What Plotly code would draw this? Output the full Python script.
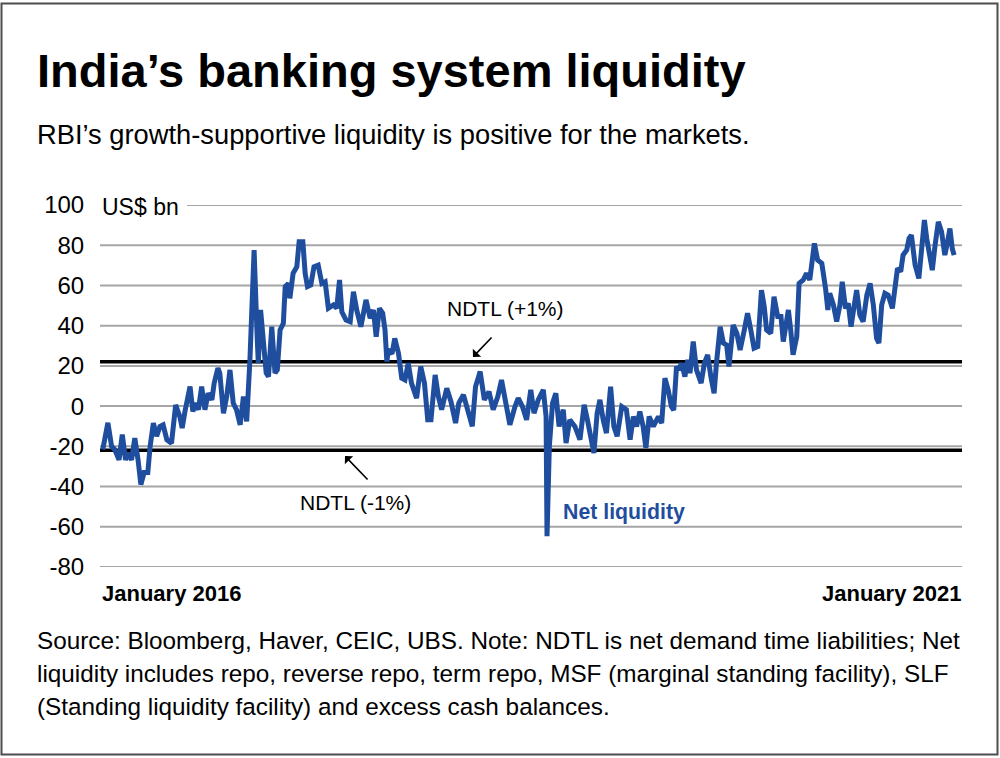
import pandas as pd
import plotly.graph_objects as go

# ---- data (days since 2016-01-01, net liquidity in US$ bn) ----
days = [6, 17, 25, 32, 41, 48, 55, 61, 68, 75, 82, 88, 95, 103, 108, 115, 122, 129, 136, 144,
        154, 163, 172, 177, 183, 194, 200, 205, 212, 219, 226, 233, 241, 246, 254, 258, 266, 273, 280, 287,
        294, 302, 309, 316, 323, 332, 338, 341, 346, 352, 358, 363, 370, 377, 382, 388, 395, 399, 406, 409,
        416, 424, 429, 437, 442, 447, 454, 461, 470, 478, 485, 492, 503, 510, 516, 521, 530, 539, 546, 553,
        562, 573, 582, 589, 595, 602, 609, 614, 618, 621, 629, 635, 643, 650, 657, 664, 671, 682, 691, 699,
        706, 713, 722, 729, 736, 747, 756, 766, 773, 783, 792, 802, 809, 819, 828, 838, 847, 857, 865, 872,
        883, 894, 901, 910, 919, 928, 935, 944, 955, 961, 963, 968, 975, 982, 989, 998, 1004, 1012, 1023, 1034,
        1043, 1050, 1055, 1064, 1071, 1077, 1084, 1091, 1100, 1107, 1114, 1124, 1134, 1142, 1149, 1156, 1163, 1170, 1176, 1183,
        1192, 1203, 1210, 1217, 1224, 1231, 1236, 1242, 1246, 1253, 1260, 1266, 1271, 1278, 1285, 1295, 1302, 1309, 1316, 1323,
        1328, 1336, 1343, 1350, 1355, 1364, 1372, 1379, 1388, 1395, 1402, 1409, 1417, 1425, 1431, 1436, 1445, 1452, 1460, 1467,
        1472, 1483, 1488, 1493, 1501, 1506, 1515, 1522, 1529, 1539, 1546, 1555, 1563, 1568, 1572, 1580, 1587, 1594, 1599, 1606,
        1612, 1618, 1625, 1630, 1637, 1644, 1652, 1659, 1666, 1673, 1678, 1684, 1691, 1698, 1707, 1712, 1718, 1725, 1730, 1738,
        1743, 1748, 1756, 1764, 1770, 1776, 1781, 1788, 1793, 1799, 1806, 1813, 1820, 1826, 1831, 1836, 1840]

net_liquidity = [-21.6, -8.3, -20, -21.7, -26.7, -14.2, -26.7, -23.3, -26.7, -15.9, -26.7, -39, -33, -33, -20, -8.4, -15, -10.1, -9.3, -16.7,
                 -18.4, 0.6, -5.2, -10.9, -2.7, 9.7, -2.7, 1.5, -1.8, 9.7, -1.8, 6.4, 3.1, 11.4, 18.9, 16.4, -3.5, 4.8, 18, 1.5,
                 -1.8, -9.3, 4.8, -7.6, 23, 77.6, 37.9, 21.3, 47.8, 29.6, 16.5, 14.7, 39.5, 16.4, 18, 37.9, 41.2, 59.4, 61, 53.6,
                 66, 69.3, 81.7, 81.7, 66, 59.4, 60.2, 69.3, 70.1, 61, 61.8, 48.7, 50.3, 48.7, 62.7, 46.9, 42.8, 42, 56.9, 47.8,
                 39.5, 52.8, 43.7, 47.8, 34.5, 48.6, 46.2, 37.9, 22.1, 28, 26, 33.7, 26.3, 13.9, 13, 21.3, 11.4, 4, 19.7, 11.4,
                 -6.8, -6.8, 15.5, 4.8, -1.8, 8.9, 2.3, -8.4, 1.5, 5.6, -1.8, -10.1, 9.7, 17.2, 3.1, 7.2, -1.8, 4.8, 13, 3.1,
                 -9.3, -0.2, 4, -0.2, -6.8, 8.1, -3.5, 3.1, 8.1, -5.2, -64.7, -20, 1.5, 6.4, -10.1, -1.8, -18.4, -6.8, -10.1, -16.7,
                 0.6, -6.8, -13.4, -23.3, -3.5, 3.1, -6.8, -13.4, 9.7, -10.1, -15, -0.2, -1.8, -16.7, -5.2, -10.1, -2.7, -10.1, -20.8, -5.2,
                 -10.1, -5.2, -8.4, 13.9, 8.1, -0.2, -2, 19.7, 18, 21.3, 14.7, 23, 16.4, 32.1, 18, 11.4, 21.3, 25.5, 14.7, 6.4,
                 21.3, 39.5, 31.3, 30.4, 19.7, 40.3, 36.2, 27.9, 37.9, 46.2, 37.9, 28.8, 29.6, 57.7, 49.4, 37.9, 36.2, 54.4, 44.5, 44.5,
                 32.1, 47.8, 37.9, 25.5, 34.5, 61, 62.7, 66, 62.7, 80.9, 72.6, 71, 58.6, 47.8, 56.1, 50.3, 42, 50.3, 61.8, 48.6,
                 51.1, 39.5, 50.3, 57.7, 45.3, 42, 55.2, 61, 50.3, 33.7, 31.3, 50.3, 56.1, 55.2, 48.6, 60.2, 68.5, 66.9, 75.1, 77.6,
                 83.4, 85, 70.1, 63.5, 80, 92.5, 83.4, 73.4, 67.6, 80, 91.6, 86.7, 75.1, 81.7, 88.3, 78.4, 75.1]

ndtl_band = 22  # +/- 1% of NDTL, US$ bn
y_ticks = [-80, -60, -40, -20, 0, 20, 40, 60, 80, 100]
y_tick_labels = ["-80", "-60", "-40", "-20", "0", "20", "40", "60", "80", "100"]

dates = pd.Timestamp("2016-01-01") + pd.to_timedelta(days, unit="D")

BLUE = "#1F4E9E"
FONT = "Liberation Sans, Arial, Helvetica, sans-serif"

fig = go.Figure()
fig.add_trace(go.Scatter(x=dates, y=net_liquidity, mode="lines",
                         line=dict(color=BLUE, width=5), hoverinfo="skip"))

# plot-area geometry in px (for placing chrome outside the plot)
L, R, T, B = 100, 962, 205, 567
W, H = R - L, B - T


def px(x):
    return (x - L) / W


def py(y):
    return (B - y) / H


shapes = []
for v in y_ticks:
    x0 = px(187) if v == 100 else 0
    shapes.append(dict(type="line", xref="paper", yref="y", x0=x0, x1=1, y0=v, y1=v,
                       line=dict(color="#A6A6A6", width=2), layer="below"))
for v in (ndtl_band, -ndtl_band):
    shapes.append(dict(type="line", xref="paper", yref="y", x0=0, x1=1, y0=v, y1=v,
                       line=dict(color="black", width=3.5), layer="below"))
# outer border
shapes.append(dict(type="rect", xref="paper", yref="paper", x0=px(1.5), x1=px(997.5), y0=py(754.5), y1=py(3.5),
                   line=dict(color="#4D4D4D", width=2)))

ann = []


def text(x, y, s, size, anchor="left", bold=False, color="black"):
    ann.append(dict(xref="paper", yref="paper", x=px(x), y=py(y), text=f"<b>{s}</b>" if bold else s,
                    showarrow=False, xanchor=anchor, yanchor="middle",
                    font=dict(family=FONT, size=size, color=color)))


text(35, 70, "India’s banking system liquidity", 47, bold=True)
text(35, 134, "RBI’s growth-supportive liquidity is positive for the markets.", 27.3)
text(100, 207, "US$ bn", 23)
text(100, 593, "January 2016", 22, bold=True)
text(963, 593, "January 2021", 22, anchor="right", bold=True)
text(445, 308, "NDTL (+1%)", 21)
text(298, 502, "NDTL (-1%)", 21)
text(561, 512, "Net liquidity", 21.3, bold=True, color=BLUE)
text(35, 640, "Source: Bloomberg, Haver, CEIC, UBS. Note: NDTL is net demand time liabilities; Net", 24.3)
text(35, 673, "liquidity includes repo, reverse repo, term repo, MSF (marginal standing facility), SLF", 24.3)
text(35, 706, "(Standing liquidity facility) and excess cash balances.", 24.3)

# arrows
ann.append(dict(xref="paper", yref="paper", x=px(473), y=py(357), ax=20, ay=-21, text="",
                showarrow=True, arrowhead=1, arrowsize=1.2, arrowwidth=1.6, arrowcolor="black"))
ann.append(dict(xref="paper", yref="paper", x=px(345), y=py(456), ax=24, ay=25, text="",
                showarrow=True, arrowhead=1, arrowsize=1.2, arrowwidth=1.6, arrowcolor="black"))

fig.update_layout(
    width=1000, height=758,
    margin=dict(l=L, r=1000 - R, t=T, b=758 - B),
    paper_bgcolor="white", plot_bgcolor="white",
    showlegend=False,
    shapes=shapes, annotations=ann,
    xaxis=dict(range=[pd.Timestamp("2016-01-01"), pd.Timestamp("2021-01-31")],
               showgrid=False, showticklabels=False, zeroline=False, showline=False, ticks=""),
    yaxis=dict(range=[-80, 100], tickvals=y_ticks, ticktext=y_tick_labels,
               showgrid=False, zeroline=False, showline=False,
               ticks="outside", ticklen=10, tickcolor="rgba(0,0,0,0)",
               tickfont=dict(family=FONT, size=24, color="black")),
)

fig.write_html("out.html", config={"displayModeBar": False},
               post_script="document.body.style.margin='0';document.body.style.overflow='hidden';")
